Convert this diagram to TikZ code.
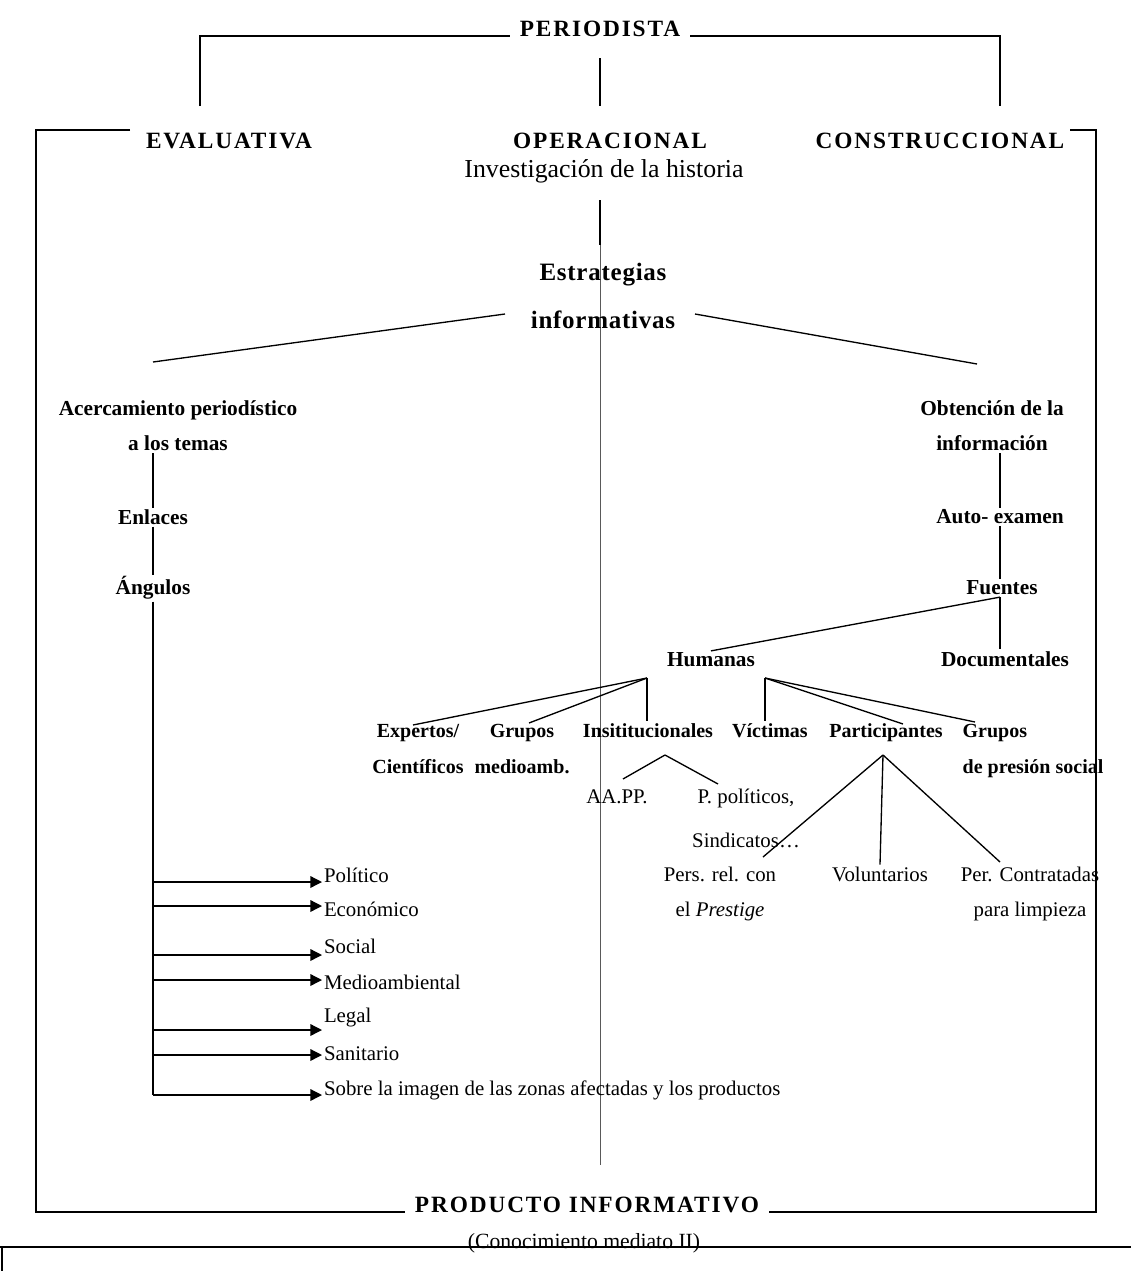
\documentclass[tikz,border=0pt]{standalone}
\usepackage{fontspec}
\setmainfont{Liberation Serif}
\newfontfamily\headfont[LetterSpace=8]{Liberation Serif}
\newfontfamily\stratfont[LetterSpace=3]{Liberation Serif}
\usetikzlibrary{arrows.meta}
\tikzset{
  head/.style={font=\headfont\bfseries\fontsize{14}{16}\selectfont,inner xsep=6pt,inner ysep=2pt},
  lbl/.style={font=\bfseries\fontsize{12.8}{21}\selectfont,align=center,inner sep=1pt},
  lbltwo/.style={font=\bfseries\fontsize{12}{22}\selectfont,align=center,inner sep=1pt,anchor=base},
  txt/.style={font=\fontsize{12.5}{21}\selectfont,align=center,inner sep=1pt},
  ln/.style={line width=0.8pt},
  guide/.style={line width=0.5pt,black!65},
  arr/.style={line width=0.8pt,-{Triangle[length=7pt,width=7pt]}},
}

\begin{document}
\begin{tikzpicture}[x=0.6pt,y=-0.6pt]
  \useasboundingbox (0,0) rectangle (1131,1271);

  \node[head,anchor=base] (per) at (600,36) {PERIODISTA};
  \node[head,anchor=base] (eva) at (229,148) {EVALUATIVA};
  \node[head,anchor=base] (ope) at (610,148) {OPERACIONAL};
  \node[head,anchor=base] (cons) at (940,148) {CONSTRUCCIONAL};
  \node[txt,font=\fontsize{15.5}{18}\selectfont] (inv) at (604,171) {Investigación de la historia};
  \node[head,anchor=base] (prod) at (587,1212) {PRODUCTO INFORMATIVO};
  \node[txt,font=\fontsize{13}{15}\selectfont] (conoc) at (584,1243) {(Conocimiento mediato II)};

  \draw[ln] (200,106) -- (200,36) -- (per.base west);
  \draw[ln] (per.base east) -- (1000,36) -- (1000,106);
  \draw[ln] (600,58) -- (600,106);
  \draw[ln] (130,130) -- (36,130) -- (36,1212) -- (prod.base west);
  \draw[ln] (prod.base east) -- (1096,1212) -- (1096,130) -- (1070,130);
  \draw[line width=1pt] (0,1247) -- (1131,1247);
  \draw[line width=1pt] (2,1247) -- (2,1271);

  \coordinate (axtop) at (600,200);
  \coordinate (axmid) at (600,245);
  \coordinate (axbot) at (600,1165);
  \draw[ln] (axtop) -- (axmid);
  \draw[guide] (axmid) -- (axbot);

  \node[font=\stratfont\bfseries\fontsize{15}{29}\selectfont,align=center,inner sep=1pt]
    (estr) at (603,296) {Estrategias\\informativas};
  \coordinate (eL) at (505,314);
  \coordinate (eR) at (695,314);
  \coordinate (aTop) at (153,362);
  \coordinate (oTop) at (977,364);
  \draw[ln] (eL) -- (aTop);
  \draw[ln] (eR) -- (oTop);

  \node[lbl] (acer) at (178,426) {Acercamiento periodístico\\a los temas};
  \node[lbl] (enl) at (153,517) {Enlaces};
  \node[lbl] (ang) at (153,588) {Ángulos};
  \draw[ln] (acer.south -| enl.north) -- (enl.north);
  \draw[ln] (enl.south) -- (ang.north);
  \draw[ln] (ang.south) -- (ang.south |- 0,1095);
  \foreach \ya/\yt/\lab [count=\i] in {882/875/Político, 906/909/Económico,
      955/946/Social, 980/982/Medioambiental, 1030/1018/Legal,
      1055/1054/Sanitario, 1095/1090/Sobre la imagen de las zonas afectadas y los productos} {
    \node[txt,anchor=west] (asp\i) at (322,\yt) {\lab};
    \draw[arr] (ang.south |- 0,\ya) -- (asp\i.west |- 0,\ya);
  }

  \node[lbl] (obt) at (992,426) {Obtención de la\\información};
  \node[lbl] (auto) at (1000,517) {Auto- examen};
  \node[lbl] (fue) at (1002,588) {Fuentes};
  \node[lbl] (hum) at (711,660) {Humanas};
  \node[lbl] (doc) at (1005,659) {Documentales};
  \draw[ln] (obt.south -| auto.north) -- (auto.north);
  \draw[ln] (auto.south -| 1000,0) -- (fue.north -| 1000,0);
  \draw[ln] (fue.south -| 1000,0) -- (hum.north);
  \draw[ln] (fue.south -| 1000,0) -- (doc.north -| 1000,0);

  \node[lbltwo] (exp) at (418,773.7) {Expertos/\\Científicos};
  \node[lbltwo] (grm) at (522,773.7) {Grupos\\medioamb.};
  \node[lbltwo] (inst) at (648,737) {Insititucionales};
  \node[lbltwo] (vic) at (770,737) {Víctimas};
  \node[lbltwo] (part) at (886,737) {Participantes};
  \node[lbltwo,align=left] (gps) at (1033,773.7) {Grupos\\de presión social};

  \coordinate (hL) at (647,678);
  \coordinate (hR) at (765,678);
  \draw[ln] (hL) -- (413,725);
  \draw[ln] (hL) -- (529,723);
  \draw[ln] (hL) -- (hL |- inst.north);
  \draw[ln] (hR) -- (hR |- vic.north);
  \draw[ln] (hR) -- (903,724);
  \draw[ln] (hR) -- (975,722);

  \node[txt,anchor=base] (aapp) at (617,803) {AA.PP.};
  \node[txt,anchor=base,font=\fontsize{12.5}{26}\selectfont] (ppol) at (746,847.3) {P. políticos,\\Sindicatos\ldots};
  \coordinate (iApex) at (665,755);
  \draw[ln] (iApex) -- (623,779);
  \draw[ln] (iApex) -- (718,784);

  \node[txt,anchor=base] (pers) at (720,916) {Pers. rel. con\\el \textit{Prestige}};
  \node[txt,anchor=base] (vol) at (880,881) {Voluntarios};
  \node[txt,anchor=base] (perc) at (1030,916) {Per. Contratadas\\para limpieza};
  \coordinate (pApex) at (883,755);
  \draw[ln] (pApex) -- (763,857);
  \draw[ln] (pApex) -- (vol.north);
  \draw[ln] (pApex) -- (1000,862);
\end{tikzpicture}
\end{document}
